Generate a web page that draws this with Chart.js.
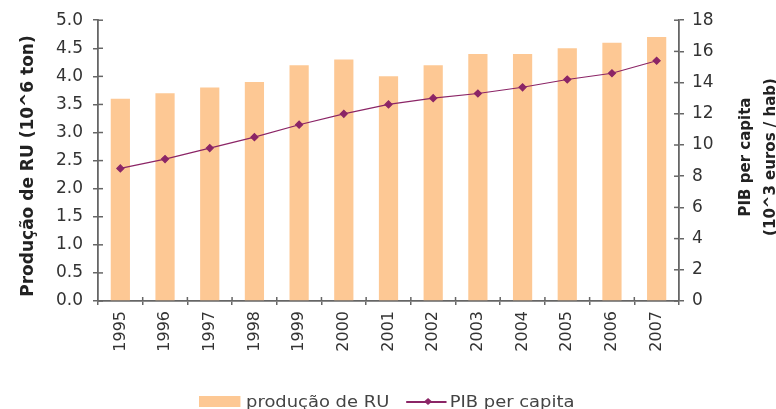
<!DOCTYPE html>
<html lang="pt">
<head>
<meta charset="UTF-8" />
<title>Produção de RU e PIB per capita</title>
<script src="https://cdn.jsdelivr.net/npm/chart.js"></script>
<style>
    html, body { margin: 0; padding: 0; background: #fff; }
    .wrap { position: relative; width: 776px; height: 409px; overflow: hidden; }
    canvas { display: block; }
    .legend {
        position: absolute; left: 199px; top: 393px; height: 17px;
        font-family: "DejaVu Sans", Verdana, sans-serif; font-size: 16px; color: #444;
        display: flex; align-items: center; white-space: nowrap;
        transform: scaleX(1.12); transform-origin: left center;
    }
    .box { width: 37px; height: 11px; background: #fdc894; margin-right: 5px; }
    .ln { position: relative; width: 36px; height: 11px; margin: 0 3px 0 15px; }
    .ln::before { content: ""; position: absolute; left: 0; right: 0; top: 5px; height: 1.5px; background: #8b2566; }
    .ln::after { content: ""; position: absolute; left: 17px; top: 3px; width: 5px; height: 5px; background: #8b2566; transform: rotate(45deg); }
</style>
</head>
<body>
<div class="wrap">
    <canvas id="grafico" width="776" height="409"></canvas>
    <div class="legend">
        <span class="box"></span><span>produção de RU</span>
        <span class="ln"></span><span>PIB per capita</span>
    </div>
</div>
<script>
    // dados
    const anos = ["1995", "1996", "1997", "1998", "1999", "2000", "2001", "2002", "2003", "2004", "2005", "2006", "2007"];
    const producaoRU = [3.6, 3.7, 3.8, 3.9, 4.2, 4.3, 4.0, 4.2, 4.4, 4.4, 4.5, 4.6, 4.7];
    const pibPerCapita = [8.5, 9.1, 9.8, 10.5, 11.3, 12.0, 12.6, 13.0, 13.3, 13.7, 14.2, 14.6, 15.4];
    const ticksEsq = [0, 0.5, 1, 1.5, 2, 2.5, 3, 3.5, 4, 4.5, 5];
    const ticksDir = [0, 2, 4, 6, 8, 10, 12, 14, 16, 18];

    const fonte = "'DejaVu Sans', Verdana, sans-serif";
    const cinza = "#666";

    // titulos dos eixos + tracinhos para dentro
    const extras = {
        id: "extras",
        afterDraw(chart) {
            const ctx = chart.ctx;
            const a = chart.chartArea;
            ctx.save();
            ctx.strokeStyle = cinza;
            ctx.lineWidth = 1.5;
            chart.scales.y.ticks.forEach(t => {
                const y = chart.scales.y.getPixelForValue(t.value);
                ctx.beginPath(); ctx.moveTo(a.left, y); ctx.lineTo(a.left + 5, y); ctx.stroke();
            });
            chart.scales.y2.ticks.forEach(t => {
                const y = chart.scales.y2.getPixelForValue(t.value);
                ctx.beginPath(); ctx.moveTo(a.right - 5, y); ctx.lineTo(a.right, y); ctx.stroke();
            });
            const xs = chart.scales.x;
            for (let i = 1; i < anos.length; i++) {
                const x = (xs.getPixelForValue(i - 1) + xs.getPixelForValue(i)) / 2;
                ctx.beginPath(); ctx.moveTo(x, a.bottom - 4); ctx.lineTo(x, a.bottom); ctx.stroke();
            }

            ctx.fillStyle = "#222";
            ctx.font = "bold 17px " + fonte;
            ctx.textAlign = "center";
            ctx.textBaseline = "middle";
            ctx.translate(29, 166);
            ctx.rotate(-Math.PI / 2);
            ctx.fillText("Produção de RU (10^6 ton)", 0, 0);
            ctx.restore();

            ctx.save();
            ctx.fillStyle = "#222";
            ctx.font = "bold 15px " + fonte;
            ctx.textAlign = "center";
            ctx.textBaseline = "middle";
            ctx.translate(746, 157);
            ctx.rotate(-Math.PI / 2);
            ctx.fillText("PIB per capita", 0, 0);
            ctx.fillText("(10^3 euros / hab)", 0, 25);
            ctx.restore();
        }
    };

    new Chart(document.getElementById("grafico"), {
        data: {
            labels: anos,
            datasets: [
                {
                    type: "line",
                    label: "PIB per capita",
                    data: pibPerCapita,
                    yAxisID: "y2",
                    borderColor: "#8b2566",
                    backgroundColor: "#8b2566",
                    borderWidth: 1.2,
                    pointStyle: "rectRot",
                    pointRadius: 3.5,
                    tension: 0,
                    order: 0
                },
                {
                    type: "bar",
                    label: "produção de RU",
                    data: producaoRU,
                    yAxisID: "y",
                    backgroundColor: "#fdc894",
                    barPercentage: 0.43,
                    categoryPercentage: 1,
                    order: 1
                }
            ]
        },
        options: {
            responsive: false,
            animation: false,
            layout: { padding: { top: 18, bottom: 0, left: 0, right: 0 } },
            plugins: { legend: { display: false }, tooltip: { enabled: false } },
            scales: {
                x: {
                    offset: true,
                    grid: { display: true, drawOnChartArea: false, offset: true, tickLength: 4, color: cinza, lineWidth: 1.5 },
                    border: { color: cinza, width: 1.8 },
                    ticks: { color: "#333", font: { family: fonte, size: 16 }, minRotation: 90, maxRotation: 90, padding: 6 },
                    afterFit: s => { s.height = 108; }
                },
                y: {
                    position: "left",
                    min: 0, max: 5,
                    afterBuildTicks: s => { s.ticks = ticksEsq.map(v => ({ value: v })); },
                    grid: { drawOnChartArea: false, tickLength: 5, color: cinza, lineWidth: 1.5 },
                    border: { color: cinza, width: 1.8 },
                    ticks: { color: "#333", font: { family: fonte, size: 17 }, padding: 10, callback: v => v.toFixed(1) },
                    afterFit: s => { s.width = 98; }
                },
                y2: {
                    position: "right",
                    min: 0, max: 18,
                    afterBuildTicks: s => { s.ticks = ticksDir.map(v => ({ value: v })); },
                    grid: { drawOnChartArea: false, tickLength: 5, color: cinza, lineWidth: 1.5 },
                    border: { color: cinza, width: 1.8 },
                    ticks: { color: "#333", font: { family: fonte, size: 17 }, padding: 8 },
                    afterFit: s => { s.width = 97; }
                }
            }
        },
        plugins: [extras]
    });
</script>
</body>
</html>
